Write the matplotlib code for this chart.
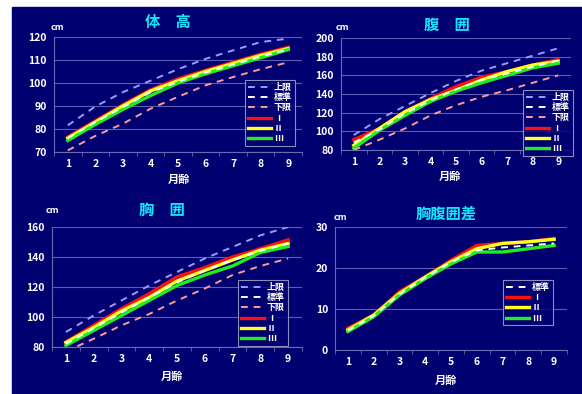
import numpy as np
import matplotlib
matplotlib.use('Agg')
import matplotlib.pyplot as plt
from matplotlib.patches import Rectangle

plt.rcParams['font.family'] = ['Noto Sans CJK JP', 'DejaVu Sans']

months = [1, 2, 3, 4, 5, 6, 7, 8, 9]

# 体高
height_upper = [81.6, 89.8, 96, 101, 106, 110.5, 114.2, 117.8, 119.3]
height_std = [76, 83, 89.5, 96, 100.5, 104.5, 108, 111.5, 114.5]
height_lower = [70.7, 77, 82.3, 88.8, 94, 99, 102.6, 106, 109]
height_1 = [76.5, 83.5, 90.5, 97, 101.8, 105.5, 109, 112.5, 115.5]
height_2 = [76, 83, 90, 96.5, 101, 105, 108.5, 112, 115]
height_3 = [75, 82, 88.5, 94.5, 100, 104, 107.5, 111, 114.5]

# 腹囲
belly_upper = [96, 113, 127, 141, 154, 165, 173, 181, 189]
belly_std = [88, 102, 119, 133, 145, 155, 162, 169, 176]
belly_lower = [80, 91, 103, 117, 128, 137, 144, 152, 160]
belly_1 = [91, 103, 121, 135, 148, 158, 164, 171, 177]
belly_2 = [85, 103, 121, 134, 144, 155, 164, 171, 175]
belly_3 = [82, 101, 117, 132, 143, 152, 160, 168, 173]

# 胸囲
chest_upper = [90, 101, 111, 121, 130, 139, 146.7, 154.4, 160]
chest_std = [82, 92.5, 103, 113, 123, 131, 138, 144, 149]
chest_lower = [77, 85.5, 94.4, 102, 111, 119, 128, 134, 139]
chest_1 = [83.3, 94.4, 105.5, 115.5, 126.7, 133, 140, 145.5, 151.5]
chest_2 = [83, 93, 104, 113, 124, 131, 138, 144.5, 149]
chest_3 = [81, 91, 101, 111, 121, 128, 134, 143, 147]

# 胸腹囲差
diff_std = [4.7, 8.3, 13.6, 17.6, 21.4, 24.3, 25, 25.5, 26]
diff_1 = [5.3, 8.5, 14.2, 17.8, 21.9, 25.5, 26, 26.4, 27.2]
diff_2 = [4.9, 8.5, 13.8, 17.8, 21.5, 24.7, 26, 26.4, 27]
diff_3 = [4.5, 8.1, 13.4, 17.4, 21, 23.9, 23.9, 24.7, 25.5]

navy = '#000070'
W, H = 582, 394

fig = plt.figure(figsize=(W / 100, H / 100), dpi=100)
fig.patch.set_facecolor('white')
fig.patches.append(Rectangle((12 / W, 0), 1 - 12 / W, 1 - 7 / H,
                             transform=fig.transFigure, color=navy, zorder=-10))


def make_axes(left, right, top, bottom):
    return fig.add_axes([left / W, 1 - bottom / H, (right - left) / W, (bottom - top) / H])


def style(ax, ylim, yticks):
    ax.set_facecolor(navy)
    ax.set_xlim(0.5, 9.5)
    ax.set_ylim(*ylim)
    ax.set_xticks(months)
    ax.set_yticks(yticks)
    ax.set_xticks(np.arange(0.5, 10, 1), minor=True)
    ax.tick_params(axis='both', which='major', length=0, colors='white', labelsize=7.5, pad=5)
    ax.tick_params(axis='x', which='minor', length=3, color='#6a6ab0', direction='out')
    for lab in ax.get_xticklabels() + ax.get_yticklabels():
        lab.set_fontweight('bold')
    ax.grid(axis='y', color='#5c5cb0', linewidth=0.8)
    ax.set_axisbelow(True)
    for s in ['top', 'right']:
        ax.spines[s].set_visible(False)
    for s in ['left', 'bottom']:
        ax.spines[s].set_color('#6a6ab0')
        ax.spines[s].set_linewidth(0.8)


def plot_set(ax, upper, std, lower, s1, s2, s3, legend_pos):
    handles = []
    if upper is not None:
        handles.append(ax.plot(months, upper, color='#9c9cff', lw=1.4, ls=(0, (3.5, 3)), label='上限', zorder=4)[0])
    h_std = ax.plot(months, std, color='white', lw=1.4, ls=(0, (3.5, 3)), label='標準', zorder=5)[0]
    handles.append(h_std)
    if lower is not None:
        handles.append(ax.plot(months, lower, color='#ff9a9a', lw=1.4, ls=(0, (3.5, 3)), label='下限', zorder=4)[0])
    handles.append(ax.plot(months, s1, color='#ff1010', lw=2.4, label='Ⅰ', zorder=3)[0])
    handles.append(ax.plot(months, s2, color='#ffff20', lw=2.4, label='Ⅱ', zorder=3)[0])
    handles.append(ax.plot(months, s3, color='#20ee20', lw=2.4, label='Ⅲ', zorder=3)[0])
    leg = fig.legend(handles=handles, loc='upper left',
                     bbox_to_anchor=(legend_pos[0] / W, 1 - legend_pos[1] / H),
                     fontsize=6.5, frameon=True, facecolor=navy, edgecolor='#b0b0d0',
                     fancybox=False, handlelength=2.6, handletextpad=0.3,
                     labelspacing=0.15, borderpad=0.3, borderaxespad=0)
    leg.get_frame().set_linewidth(0.8)
    for t in leg.get_texts():
        t.set_color('white')
        t.set_fontweight('bold')


def labels(title, tx, ty, cx, cy, lx, ly):
    fig.text(tx / W, 1 - ty / H, title, color='#10e8ff', fontsize=11, fontweight='bold',
             ha='center', va='center')
    fig.text(cx / W, 1 - cy / H, 'cm', color='white', fontsize=6.5, fontweight='bold',
             ha='center', va='center')
    fig.text(lx / W, 1 - ly / H, '月齢', color='white', fontsize=8, fontweight='bold',
             ha='center', va='center')


ax1 = make_axes(54, 302, 37, 152)
style(ax1, (70, 120), range(70, 121, 10))
plot_set(ax1, height_upper, height_std, height_lower, height_1, height_2, height_3, (245, 80))
labels('体　高', 168, 22, 57, 27, 179, 179)

ax2 = make_axes(341, 571, 38, 150)
style(ax2, (80, 200), range(80, 201, 20))
plot_set(ax2, belly_upper, belly_std, belly_lower, belly_1, belly_2, belly_3, (523, 90))
labels('腹　囲', 447, 25, 342, 27, 450, 176)

ax3 = make_axes(52, 302, 227, 347)
style(ax3, (80, 160), range(80, 161, 20))
plot_set(ax3, chest_upper, chest_std, chest_lower, chest_1, chest_2, chest_3, (238, 280))
labels('胸　囲', 162, 210, 52, 210, 172, 376)

ax4 = make_axes(335, 567, 227, 350)
style(ax4, (0, 30), range(0, 31, 10))
plot_set(ax4, None, diff_std, None, diff_1, diff_2, diff_3, (503, 280))
labels('胸腹囲差', 446, 214, 340, 217, 446, 380)

fig.savefig('out.png', dpi=100)
